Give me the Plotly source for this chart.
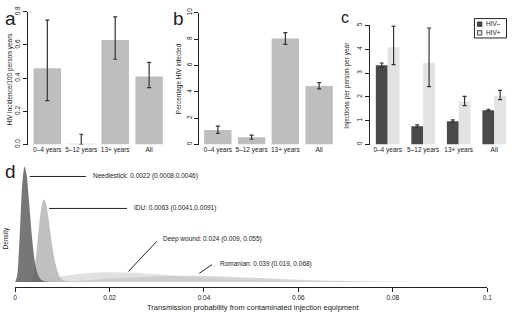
import plotly.graph_objects as go

# ---------------- data ----------------
age_groups = ["0\u20134 years", "5\u201312 years", "13+ years", "All"]

# panel a: HIV incidence /100 person years
inc_val = [0.46, 0.005, 0.63, 0.41]
inc_hi = [0.75, 0.062, 0.77, 0.495]
inc_lo = [0.265, 0.0, 0.514, 0.343]

# panel b: percentage HIV infected
pct_val = [1.1, 0.55, 8.05, 4.45]
pct_hi = [1.4, 0.72, 8.5, 4.7]
pct_lo = [0.85, 0.4, 7.6, 4.23]

# panel c: injections per person per year
series_names = ["HIV\u2013", "HIV+"]
neg_val = [3.33, 0.77, 0.98, 1.44]
neg_hi = [3.42, 0.82, 1.03, 1.48]
neg_lo = [3.24, 0.72, 0.93, 1.40]
pos_val = [4.08, 3.43, 1.80, 2.05]
pos_hi = [4.97, 4.89, 2.02, 2.27]
pos_lo = [3.35, 2.43, 1.63, 1.88]

# panel d: posterior densities (arbitrary units)
needle_x = [0, 0.0004, 0.0008, 0.0012, 0.0016, 0.002, 0.0024, 0.0028, 0.0032, 0.0036, 0.004, 0.0045, 0.005, 0.0055, 0.006, 0.007]
needle_y = [0, 6, 32, 72, 106, 119, 112, 92, 68, 45, 27, 13, 6, 2.5, 1, 0]
idu_x = [0.003, 0.0035, 0.004, 0.0045, 0.005, 0.0055, 0.006, 0.0065, 0.007, 0.0075, 0.008, 0.0085, 0.009, 0.0095, 0.01, 0.011, 0.012]
idu_y = [0, 3, 12, 30, 55, 75, 85, 82, 68, 50, 33, 20, 11, 5, 2.5, 0.7, 0]
deep_x = [0.003, 0.006, 0.01, 0.015, 0.02, 0.025, 0.03, 0.035, 0.04, 0.05, 0.06, 0.07, 0.08]
deep_y = [0, 2, 6, 9, 10, 9.5, 8, 6, 4.2, 2, 0.8, 0.3, 0]
rom_x = [0.008, 0.012, 0.016, 0.02, 0.025, 0.03, 0.035, 0.04, 0.045, 0.05, 0.055, 0.06, 0.065, 0.07, 0.08, 0.09, 0.1]
rom_y = [0, 0.8, 2.2, 3.6, 5, 6, 6.5, 6.3, 5.5, 4.5, 3.3, 2.3, 1.5, 1, 0.4, 0.1, 0]

d_labels = ["Needlestick: 0.0022 (0.0008,0.0046)",
            "IDU: 0.0063 (0.0041,0.0091)",
            "Deep wound: 0.024 (0.009, 0.055)",
            "Romanian: 0.039 (0.019, 0.068)"]

d_ticks = [0, 0.02, 0.04, 0.06, 0.08, 0.1]
d_ticktext = ["0", "0.02", "0.04", "0.06", "0.08", "0.1"]

# ---------------- figure ----------------
W, H = 512, 319
FONT = "Liberation Sans, Arial, sans-serif"
TXT = "#222222"
BAR = "#bebebe"
ERR = "#333333"
DARK = "#4a4a4a"
LIGHT = "#e3e3e3"

def px_x(p):
    return p / W

def px_y(p):
    return 1 - p / H

fig = go.Figure()
idx = list(range(4))

def err(vals, hi, lo):
    return dict(type="data", symmetric=False,
                array=[h - v for h, v in zip(hi, vals)],
                arrayminus=[v - l for v, l in zip(vals, lo)],
                color=ERR, thickness=1.2, width=2)

fig.add_trace(go.Bar(x=idx, y=inc_val, width=0.81, marker_color=BAR, marker_line_width=0,
                     error_y=err(inc_val, inc_hi, inc_lo), xaxis="x", yaxis="y", showlegend=False))
fig.add_trace(go.Bar(x=idx, y=pct_val, width=0.81, marker_color=BAR, marker_line_width=0,
                     error_y=err(pct_val, pct_hi, pct_lo), xaxis="x2", yaxis="y2", showlegend=False))
fig.add_trace(go.Bar(x=idx, y=neg_val, width=0.333, offset=-0.333, marker_color=DARK,
                     marker_line_width=0, name=series_names[0], showlegend=False,
                     error_y=err(neg_val, neg_hi, neg_lo), xaxis="x3", yaxis="y3"))
fig.add_trace(go.Bar(x=idx, y=pos_val, width=0.333, offset=0.0, marker_color=LIGHT,
                     marker_line_width=0, name=series_names[1], showlegend=False,
                     error_y=err(pos_val, pos_hi, pos_lo), xaxis="x3", yaxis="y3"))

# densities
for xs, ys, col in [(rom_x, rom_y, "rgba(165,165,165,0.45)"),
                    (deep_x, deep_y, "rgba(200,200,200,0.55)"),
                    (idu_x, idu_y, "rgba(185,185,185,0.9)"),
                    (needle_x, needle_y, "rgba(95,95,95,0.85)")]:
    fig.add_trace(go.Scatter(x=xs, y=ys, mode="lines", line=dict(width=0, shape="spline"),
                             fill="tozeroy", fillcolor=col, xaxis="x4", yaxis="y4",
                             showlegend=False, hoverinfo="skip"))

tickfont = dict(family=FONT, size=6.5, color=TXT)

def cat_x(dom0, dom1, r0, r1):
    return dict(domain=[px_x(dom0), px_x(dom1)], range=[r0, r1], tickvals=idx,
                ticktext=age_groups, showline=False, ticks="", showgrid=False,
                zeroline=False, tickfont=tickfont, fixedrange=True)

def val_y(dtop, rng, dtick, fmt=None):
    d = dict(domain=[px_y(143), px_y(dtop)], range=rng, dtick=dtick, tick0=0,
             showline=True, linecolor="#222", linewidth=1, ticks="outside", ticklen=4,
             tickcolor="#222", tickangle=-90, showgrid=False, zeroline=False,
             tickfont=tickfont, fixedrange=True)
    if fmt:
        d["tickformat"] = fmt
    return d

fig.update_layout(
    width=W, height=H, margin=dict(l=0, r=0, t=0, b=0),
    paper_bgcolor="white", plot_bgcolor="white",
    font=dict(family=FONT, color=TXT),
    barmode="overlay", showlegend=False, hovermode=False,
    xaxis=cat_x(26, 165, -0.58, 3.46),
    yaxis=dict(val_y(6, [0, 0.8], 0.2, ".1f"), anchor="x"),
    xaxis2=cat_x(200, 340, -0.55, 3.54),
    yaxis2=dict(val_y(7, [0, 10], 2), anchor="x2"),
    xaxis3=cat_x(373, 512, -0.5, 3.36),
    yaxis3=dict(val_y(20, [0, 5], 1), anchor="x3"),
    xaxis4=dict(domain=[px_x(13.3), px_x(492)], range=[0, 0.1], tickvals=d_ticks,
                ticktext=d_ticktext, showline=True, linecolor="#222", linewidth=1,
                ticks="outside", ticklen=4, tickcolor="#222", showgrid=False,
                zeroline=False, tickfont=dict(family=FONT, size=6.5, color=TXT),
                anchor="y4", fixedrange=True),
    yaxis4=dict(domain=[px_y(290), px_y(160)], range=[-5, 125], visible=False,
                anchor="x4", fixedrange=True),
)

ann = []
def text(x, y, s, size, angle=0, xanchor="center", yanchor="middle", xref="paper", yref="paper"):
    ann.append(dict(x=x, y=y, xref=xref, yref=yref, text=s, showarrow=False,
                    textangle=angle, xanchor=xanchor, yanchor=yanchor,
                    font=dict(family=FONT, size=size, color=TXT)))

# panel letters
text(px_x(1), px_y(0), "a", 19, xanchor="left", yanchor="top")
text(px_x(171), px_y(0), "b", 19, xanchor="left", yanchor="top")
text(px_x(342), px_y(1), "c", 16, xanchor="left", yanchor="top")
text(px_x(1), px_y(158), "d", 19, xanchor="left", yanchor="top")

# y titles
text(px_x(8), px_y(75), "HIV incidence/100 person years", 6.5, angle=-90)
text(px_x(179), px_y(75), "Percentage HIV infected", 6.5, angle=-90)
text(px_x(350), px_y(82), "Injections per person per year", 6.5, angle=-90)
text(px_x(5), px_y(240), "Density", 6.5, angle=-90)
text(px_x(254), px_y(311), "Transmission probability from contaminated injection equipment", 7.5)

# legend (panel c)
text(px_x(489), px_y(18.5), series_names[0], 6.5, xanchor="left")
text(px_x(489), px_y(27.5), series_names[1], 6.5, xanchor="left")

# density labels
lab_pos = [(0.0160, 109), (0.0248, 76), (0.0310, 44), (0.0430, 19)]
for (lx, ly), s in zip(lab_pos, d_labels):
    text(lx, ly, s, 6.5, xanchor="left", xref="x4", yref="y4")

fig.update_layout(annotations=ann)

line_style = dict(color="#222", width=1)
shapes = [
    dict(type="line", xref="x4", yref="y4", x0=0.0031, y0=109, x1=0.0150, y1=109, line=line_style),
    dict(type="line", xref="x4", yref="y4", x0=0.0072, y0=76, x1=0.0237, y1=76, line=line_style),
    dict(type="line", xref="x4", yref="y4", x0=0.024, y0=11, x1=0.0300, y1=42, line=line_style),
    dict(type="line", xref="x4", yref="y4", x0=0.039, y0=9, x1=0.0417, y1=18, line=line_style),
    # legend box and keys
    dict(type="rect", xref="paper", yref="paper", x0=px_x(479), x1=px_x(511.5),
         y0=px_y(33), y1=px_y(13), line=dict(color="#222", width=1), fillcolor="white"),
    dict(type="rect", xref="paper", yref="paper", x0=px_x(482), x1=px_x(486.5),
         y0=px_y(21), y1=px_y(16.5), line=dict(color="#222", width=0.8), fillcolor=DARK),
    dict(type="rect", xref="paper", yref="paper", x0=px_x(482), x1=px_x(486.5),
         y0=px_y(30), y1=px_y(25.5), line=dict(color="#222", width=0.8), fillcolor=LIGHT),
]
fig.update_layout(shapes=shapes)

fig.write_html("out.html", config={"displayModeBar": False, "staticPlot": True},
               post_script="document.body.style.margin='0';document.body.style.overflow='hidden';")
